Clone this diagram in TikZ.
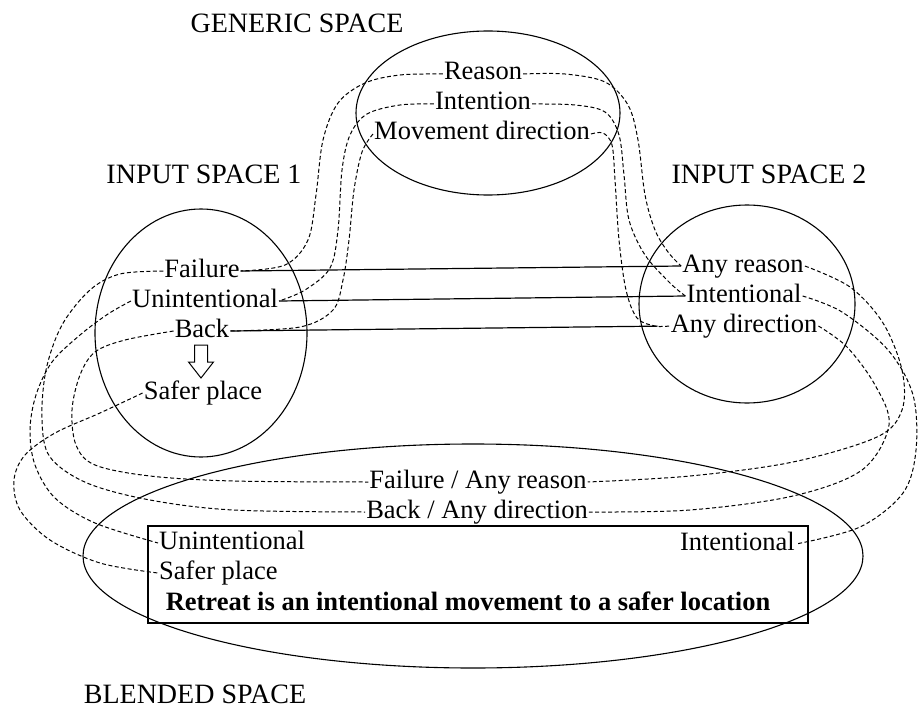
\documentclass[tikz,border=0pt]{standalone}
\usepackage{fontspec}
\setmainfont{Liberation Serif}
\begin{document}
\begin{tikzpicture}[x=1pt,y=-1pt,
  lbl/.style={font=\fontsize{26.5}{30}\selectfont, inner xsep=1pt, inner ysep=0pt,
              text height=12pt, text depth=0pt, anchor=base},
  title/.style={font=\fontsize{28}{32}\selectfont, inner sep=0pt, anchor=base},
  space/.style={line width=1.1pt},
  link/.style={line width=1.2pt},
  map/.style={line width=1pt, dash pattern=on 4pt off 2.5pt},
  curve/.style={smooth, tension=0.55}]
\useasboundingbox (0,0) rectangle (920,722);

% the four mental spaces
\draw[space] (488,113) ellipse [x radius=132, y radius=82];
\draw[space] (201,333) ellipse [x radius=106, y radius=124];
\draw[space] (747,304) ellipse [x radius=108, y radius=99];
\draw[space] (473,556) ellipse [x radius=390, y radius=112];

% space titles
\node[title] (tGen)   at (297,33)  {GENERIC SPACE};
\node[title] (tIn1)   at (204,183) {INPUT SPACE 1};
\node[title] (tIn2)   at (769,183) {INPUT SPACE 2};
\node[title] (tBlend) at (195,703) {BLENDED SPACE};

% generic space
\node[lbl] (gReason)    at (483,80)  {Reason};
\node[lbl] (gIntention) at (483,110) {Intention};
\node[lbl] (gMove)      at (482,140) {Movement direction};

% input space 1
\node[lbl] (aFailure) at (202,277) {Failure};
\node[lbl] (aUnint)   at (205,307) {Unintentional};
\node[lbl] (aBack)    at (202,337) {Back};
\node[lbl] (aSafer)   at (203,399) {Safer place};
\coordinate (arr) at (201,345);
\draw[line width=1pt] (arr) ++(-6.5,0) -- ++(13,0) -- ++(0,17) -- ++(6,0)
  -- ++(-12.5,16) -- ++(-12.5,-16) -- ++(6,0) -- cycle;

% input space 2
\node[lbl] (bAnyReason) at (743,272) {Any reason};
\node[lbl] (bIntent)    at (744,302) {Intentional};
\node[lbl] (bAnyDir)    at (744,332) {Any direction};

% blended space
\node[lbl] (cFailAny) at (478,488) {Failure / Any reason};
\node[lbl] (cBackAny) at (477,518) {Back / Any direction};
\node[draw, line width=1.1pt, minimum width=660pt, minimum height=97pt, inner sep=0pt]
  (box) at (478,574.5) {};
\node[lbl, anchor=base west] (cUnint)  at (158,549) {Unintentional};
\node[lbl, anchor=base west] (cSafer)  at (158,579) {Safer place};
\node[lbl, anchor=base east] (cIntent) at (796,550) {Intentional};
\node[lbl, font=\fontsize{26.5}{30}\selectfont\bfseries] (cRetreat) at (468,610)
  {Retreat is an intentional movement to a safer location};

% cross-space counterpart links
\draw[link] (aFailure.east) -- (bAnyReason.west);
\draw[link] (aUnint.east) -- (bIntent.west);
\draw[link, shorten >=12pt] (aBack.east) -- (bAnyDir.west);

% generic space to input space 1
\draw[map] plot[curve] coordinates {(gReason.west) (400,75) (365,83) (338,103) (323,140)
  (316,195) (308,240) (285,265) (aFailure.east)};
\draw[map] plot[curve] coordinates {(gIntention.west) (400,105) (367,114) (350,135)
  (342,170) (338,230) (330,268) (305,290) (aUnint.east)};
\draw[map] plot[curve] coordinates {(gMove.west) (362,152) (354,190) (349,240) (343,280)
  (333,310) (300,327) (aBack.east)};

% generic space to input space 2
\draw[map] plot[curve] coordinates {(gReason.east) (565,74) (605,82) (628,105) (638,140)
  (645,195) (655,230) (668,252) (bAnyReason.west)};
\draw[map] plot[curve] coordinates {(gIntention.east) (575,105) (605,112) (619,135)
  (624,175) (629,220) (645,255) (670,283) (bIntent.west)};
\draw[map] plot[curve] coordinates {(gMove.east) (603,133) (612,145) (615,180) (619,240)
  (626,290) (637,318) (655,326) (bAnyDir.west)};

% input space 1 to blended space
\draw[map] plot[curve] coordinates {(aFailure.west) (120,274) (90,290) (62,325) (46,370)
  (42,420) (50,457) (87,483) (150,500) (233,510) (cBackAny.west)};
\draw[map] plot[curve] coordinates {(aUnint.west) (108,314) (80,335) (52,362) (36,395)
  (30,430) (35,465) (55,498) (95,523) (cUnint.west)};
\draw[map] plot[curve] coordinates {(aBack.west) (125,340) (95,352) (80,375) (72,410)
  (76,445) (95,465) (150,476) (233,481) (cFailAny.west)};
\draw[map] plot[curve] coordinates {(aSafer.west) (100,413) (55,433) (25,455) (14,480)
  (20,510) (50,540) (100,563) (cSafer.west)};

% input space 2 to blended space
\draw[map] plot[curve] coordinates {(bAnyReason.east) (850,287) (883,323) (902,370)
  (902,410) (877,437) (793,462) (690,476) (cFailAny.east)};
\draw[map] plot[curve] coordinates {(bIntent.east) (842,312) (888,350) (913,395)
  (916,450) (903,493) (860,527) (cIntent.east)};
\draw[map] plot[curve] coordinates {(bAnyDir.east) (847,347) (875,385) (889,425)
  (862,470) (793,496) (690,510) (cBackAny.east)};
\end{tikzpicture}
\end{document}
